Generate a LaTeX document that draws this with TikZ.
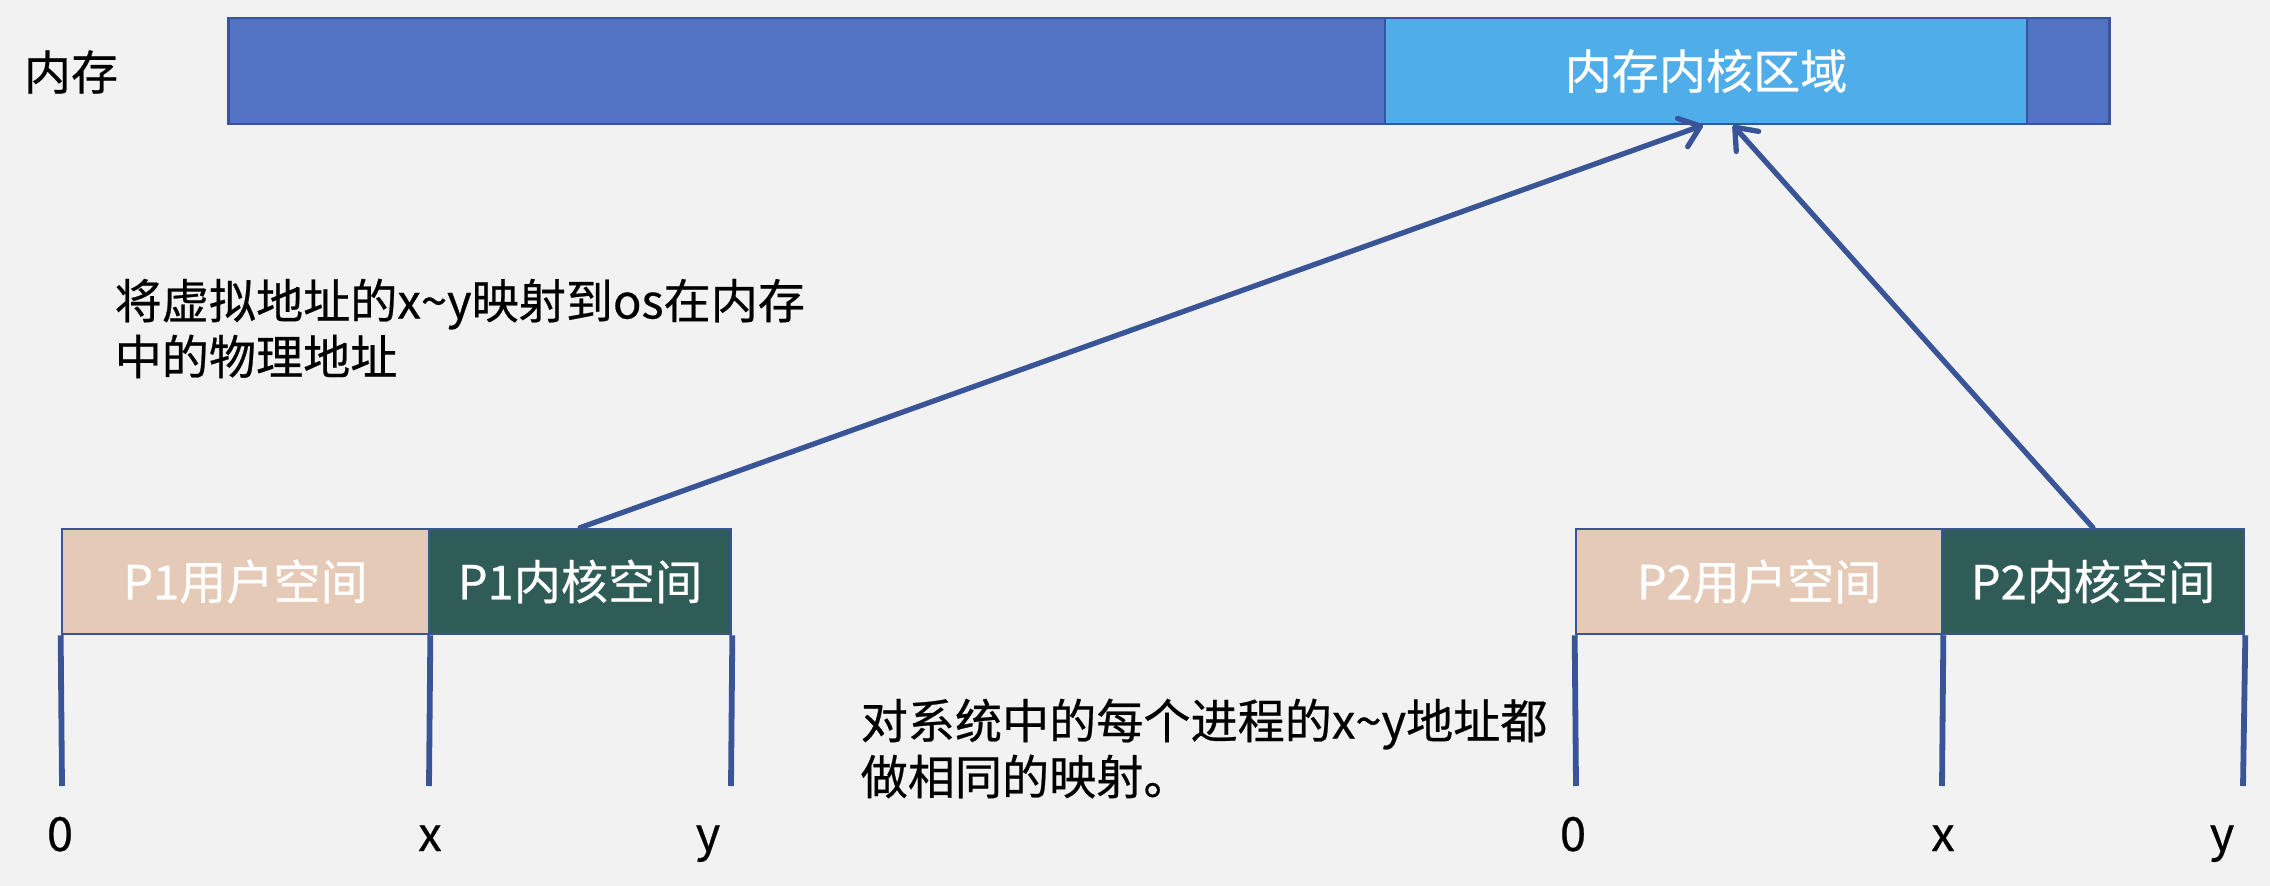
\documentclass[tikz,border=0pt]{standalone}
\usepackage{fontspec}
\setmainfont{Noto Sans CJK SC}[FakeBold=0.5]
\usetikzlibrary{arrows.meta}

\definecolor{bgc}{HTML}{F2F2F2}
\definecolor{membar}{HTML}{5272C4}
\definecolor{kregion}{HTML}{4FADEA}
\definecolor{userc}{HTML}{E6CAB8}
\definecolor{kernc}{HTML}{2F5C57}
\definecolor{edgec}{HTML}{3A5597}

\tikzset{
  txt/.style={font=\fontsize{13.4}{15.9}\selectfont},
  bar/.style={draw=edgec, line width=0.7pt, inner sep=0pt, minimum height=1.05cm,
    txt, text=white},
  userbox/.style={bar, fill=userc},
  kernbox/.style={bar, fill=kernc},
  tick/.style={draw=edgec, line width=1.65pt},
  maparrow/.style={draw=edgec, line width=1.5pt, line cap=round, line join=round,
    -{Straight Barb[length=0.19cm, width=0.3cm, line cap=round, line join=round]}},
  axislabel/.style={txt, anchor=base, inner sep=0pt},
}

\begin{document}
\begin{tikzpicture}[x=0.01cm, y=-0.01cm]
  \fill[bgc] (0,0) rectangle (2270,886);
  \useasboundingbox (0,0) rectangle (2270,886);

  % physical memory bar with the kernel region
  \node[txt, anchor=center] (memlabel) at (71,72) {内存};
  \node[bar, fill=membar, minimum width=18.80cm, minimum height=1.06cm] (mem) at (1169,71) {};
  \node[bar, fill=kregion, minimum width=6.42cm, minimum height=1.06cm] (kreg) at (1706,71) {内存内核区域};

  % process P1 address space
  \node[userbox, minimum width=3.67cm] (p1u) at (245.5,581.5) {P1用户空间};
  \node[kernbox, minimum width=3.02cm] (p1k) at (580,581.5) {P1内核空间};

  % process P2 address space
  \node[userbox, minimum width=3.66cm] (p2u) at (1759,581.5) {P2用户空间};
  \node[kernbox, minimum width=3.02cm] (p2k) at (2093,581.5) {P2内核空间};

  % tick ends
  \coordinate (p1a) at (62,786);
  \coordinate (p1b) at (429,786);
  \coordinate (p1c) at (731,786);
  \coordinate (p2a) at (1576,786);
  \coordinate (p2b) at (1942,786);
  \coordinate (p2c) at (2243,786);

  \draw[tick] (p1u.south west) -- (p1a);
  \draw[tick] (p1u.south east) -- (p1b);
  \draw[tick] (p1k.south east) -- (p1c);
  \draw[tick] (p2u.south west) -- (p2a);
  \draw[tick] (p2u.south east) -- (p2b);
  \draw[tick] (p2k.south east) -- (p2c);

  % address labels
  \node[axislabel] (l1a) at (60,851) {0};
  \node[axislabel] (l1b) at (430,851) {x};
  \node[axislabel] (l1c) at (708,851) {y};
  \node[axislabel] (l2a) at (1573,851) {0};
  \node[axislabel] (l2b) at (1943,851) {x};
  \node[axislabel] (l2c) at (2222,851) {y};

  % mapping of both kernel spaces onto the same physical region
  \draw[maparrow] (p1k.north) -- ([xshift=-0.03cm]kreg.south);
  \draw[maparrow] (p2k.north) -- ([xshift=0.27cm]kreg.south);

  % notes
  \node[txt, align=left, anchor=west, inner sep=0pt] (note1) at (114,328.5)
    {将虚拟地址的x\textasciitilde y映射到os在内存\\中的物理地址};
  \node[txt, align=left, anchor=west, inner sep=0pt] (note2) at (860,748.5)
    {对系统中的每个进程的x\textasciitilde y地址都\\做相同的映射。};
\end{tikzpicture}
\end{document}
